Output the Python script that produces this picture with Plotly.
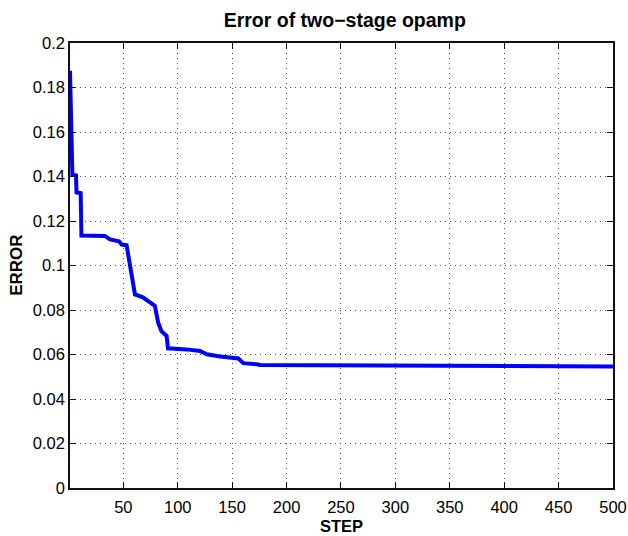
import plotly.graph_objects as go

step = [1, 2.8, 3.2, 6.5, 7, 10.8, 11.5, 33, 37.8, 46, 48.5, 53, 55, 57.7, 60.7, 68, 72.7, 79, 82, 85, 89.8, 90.4, 91,
        108, 120.5, 126.6, 138.9, 155.7, 160.3, 172.6, 175.6, 230, 300, 400, 500]
error = [0.1875, 0.160, 0.1408, 0.1405, 0.1329, 0.1325, 0.1135, 0.1133, 0.1117, 0.1109, 0.1094, 0.1091, 0.1036, 0.0952,
         0.0870, 0.0857, 0.0840, 0.0818, 0.0744, 0.0705, 0.0683, 0.0630, 0.0628,
         0.0623, 0.0616, 0.0601, 0.0591, 0.0582, 0.0561, 0.0556, 0.0553, 0.0552, 0.0550, 0.0548, 0.0546]

x_ticks = [50, 100, 150, 200, 250, 300, 350, 400, 450, 500]
y_ticks = [0, 0.02, 0.04, 0.06, 0.08, 0.1, 0.12, 0.14, 0.16, 0.18, 0.2]
y_ticktext = ["0", "0.02", "0.04", "0.06", "0.08", "0.1", "0.12", "0.14", "0.16", "0.18", "0.2"]

fig = go.Figure()
fig.add_trace(go.Scatter(x=step, y=error, mode="lines",
                         line=dict(color="#0000FF", width=4), showlegend=False))

font = "Liberation Sans, Arial, sans-serif"
axis_common = dict(showline=True, linecolor="#111111", linewidth=1.5, mirror="ticks",
                   ticks="inside", ticklen=6, tickcolor="#111111", tickwidth=1,
                   showgrid=True, gridcolor="#555555", griddash="1px,4px", gridwidth=1,
                   zeroline=False, automargin=False,
                   tickfont=dict(family=font, size=16.5, color="black"))

fig.update_layout(
    width=628, height=536,
    margin=dict(l=70, r=15, t=43, b=48),
    paper_bgcolor="white", plot_bgcolor="white",
    title=dict(text="<b>Error of two\u2212stage opamp</b>", x=0.549, xanchor="center",
               y=1 - 20 / 536, yref="container", yanchor="middle",
               font=dict(family=font, size=19.5, color="black")),
    xaxis=dict(range=[1, 500], tickvals=x_ticks, ticktext=[str(v) for v in x_ticks],
               ticklabelstandoff=3,
               title=dict(text="<b>STEP</b>", font=dict(family=font, size=16.5, color="black"), standoff=6),
               **axis_common),
    yaxis=dict(range=[0, 0.2], tickvals=y_ticks, ticktext=y_ticktext,
               ticklabelstandoff=0,
               **axis_common),
    annotations=[dict(text="<b>ERROR</b>", textangle=-90, xref="paper", yref="paper",
                      x=(16.3 - 70) / 543, y=0.5, xanchor="center", yanchor="middle",
                      showarrow=False, font=dict(family=font, size=17, color="black"))],
)

fig.write_html("out.html")
